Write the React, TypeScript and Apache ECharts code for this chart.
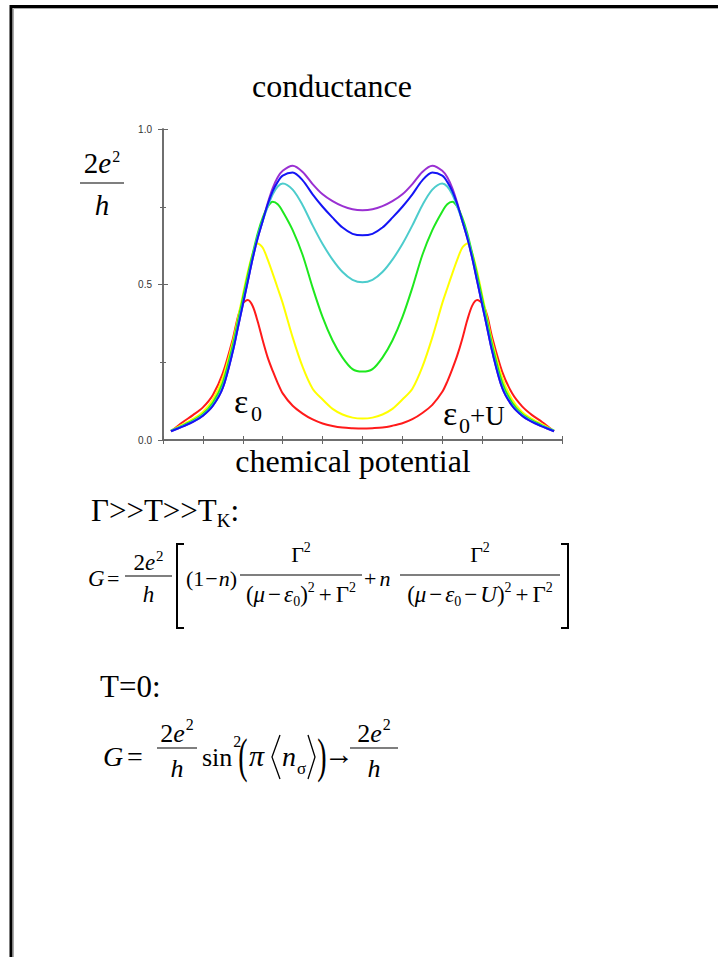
import React, { useEffect, useRef } from 'react';
import * as echarts from 'echarts';

// ---- data ----
const xs = [0.2, 0.5, 0.75, 1, 1.25, 1.5, 1.75, 1.875, 2, 2.125, 2.25, 2.375, 2.5, 2.625, 2.75, 2.875, 3, 3.25, 3.5, 3.75, 4, 4.25, 4.5, 4.75,
  5,
  5.25, 5.5, 5.75, 6, 6.25, 6.5, 6.75, 7, 7.125, 7.25, 7.375, 7.5, 7.625, 7.75, 7.875, 8, 8.125, 8.25, 8.5, 8.75, 9, 9.25, 9.5, 9.8];

const redVals = [0.028, 0.058, 0.08, 0.105, 0.145, 0.215, 0.325, 0.395, 0.44, 0.45, 0.43, 0.38, 0.32, 0.265, 0.222, 0.183, 0.15, 0.11, 0.085, 0.066, 0.053, 0.045, 0.04, 0.038,
  0.037,
  0.038, 0.04, 0.046, 0.054, 0.067, 0.087, 0.113, 0.155, 0.188, 0.228, 0.272, 0.325, 0.385, 0.432, 0.45, 0.44, 0.4, 0.33, 0.22, 0.15, 0.108, 0.08, 0.058, 0.028];
const yellowVals = [0.03, 0.05, 0.068, 0.09, 0.13, 0.2, 0.315, 0.39, 0.465, 0.54, 0.6, 0.632, 0.618, 0.58, 0.535, 0.488, 0.44, 0.33, 0.235, 0.165, 0.13, 0.1, 0.082, 0.072,
  0.069,
  0.072, 0.082, 0.1, 0.13, 0.165, 0.235, 0.33, 0.44, 0.488, 0.535, 0.58, 0.618, 0.632, 0.6, 0.54, 0.465, 0.39, 0.315, 0.2, 0.13, 0.09, 0.068, 0.05, 0.03];
const greenVals = [0.03, 0.047, 0.063, 0.084, 0.12, 0.185, 0.305, 0.38, 0.455, 0.53, 0.6, 0.665, 0.715, 0.75, 0.766, 0.758, 0.735, 0.675, 0.595, 0.49, 0.395, 0.32, 0.265, 0.228,
  0.22,
  0.228, 0.265, 0.32, 0.395, 0.49, 0.595, 0.675, 0.735, 0.758, 0.766, 0.75, 0.715, 0.665, 0.6, 0.53, 0.455, 0.38, 0.305, 0.185, 0.12, 0.084, 0.063, 0.047, 0.03];
const cyanVals = [0.03, 0.045, 0.06, 0.08, 0.112, 0.172, 0.29, 0.365, 0.44, 0.515, 0.59, 0.655, 0.705, 0.75, 0.79, 0.815, 0.825, 0.805, 0.755, 0.69, 0.63, 0.58, 0.54, 0.515,
  0.507,
  0.515, 0.54, 0.58, 0.63, 0.69, 0.755, 0.805, 0.825, 0.815, 0.79, 0.75, 0.705, 0.655, 0.59, 0.515, 0.44, 0.365, 0.29, 0.172, 0.112, 0.08, 0.06, 0.045, 0.03];
const blueVals = [0.028, 0.044, 0.058, 0.078, 0.11, 0.168, 0.285, 0.36, 0.435, 0.51, 0.585, 0.65, 0.705, 0.758, 0.8, 0.83, 0.85, 0.86, 0.835, 0.79, 0.75, 0.715, 0.683, 0.663,
  0.658,
  0.663, 0.683, 0.715, 0.75, 0.79, 0.835, 0.86, 0.85, 0.83, 0.8, 0.758, 0.705, 0.65, 0.585, 0.51, 0.435, 0.36, 0.285, 0.168, 0.11, 0.078, 0.058, 0.044, 0.028];
const purpleVals = [0.028, 0.044, 0.058, 0.078, 0.11, 0.168, 0.285, 0.36, 0.435, 0.51, 0.585, 0.65, 0.705, 0.762, 0.81, 0.845, 0.866, 0.882, 0.862, 0.823, 0.79, 0.768, 0.752, 0.742,
  0.739,
  0.742, 0.752, 0.768, 0.79, 0.823, 0.862, 0.882, 0.866, 0.845, 0.81, 0.762, 0.705, 0.65, 0.585, 0.51, 0.435, 0.36, 0.285, 0.168, 0.11, 0.078, 0.058, 0.044, 0.028];

const seriesNames = ['purple', 'red', 'yellow', 'green', 'cyan', 'blue'];
const seriesColors = ['#9a30d2', '#ff1a1a', '#ffff00', '#1ee81e', '#4ccccc', '#1414f5'];
const seriesValues = [purpleVals, redVals, yellowVals, greenVals, cyanVals, blueVals];

const yTickValues = [0, 0.5, 1];
const chartTitle = 'conductance';
const xAxisTitle = 'chemical potential';

const SERIF = 'Liberation Serif, Times New Roman, serif';
const SANS = 'Liberation Sans, Arial, sans-serif';

type Tok = { t: string; s: number; i?: boolean; dy?: number; g?: number };

export default function App() {
  const ref = useRef<HTMLDivElement>(null);

  useEffect(() => {
    if (!ref.current) return;
    const chart = echarts.init(ref.current, null, { renderer: 'svg' });

    const canvas = document.createElement('canvas');
    const ctx = canvas.getContext('2d')!;
    const measure = (t: string, s: number, i?: boolean) => {
      ctx.font = `${i ? 'italic ' : ''}${s}px ${SERIF}`;
      return ctx.measureText(t).width;
    };

    const els: any[] = [];
    const txtM = (x: number, yMid: number, t: string, s: number, i = false, align = 'left', extra: any = {}) => {
      els.push({
        type: 'text', x, y: yMid, ...extra,
        style: {
          text: t, fontSize: s, fontFamily: SERIF, fontStyle: i ? 'italic' : 'normal', fill: '#000',
          align, verticalAlign: 'middle', textAlign: align, textVerticalAlign: 'middle',
        },
      });
    };
    const txt = (x: number, base: number, t: string, s: number, i = false, align = 'left', extra: any = {}) =>
      txtM(x, base - 0.34 * s, t, s, i, align, extra);
    const runW = (toks: Tok[]) => toks.reduce((a, k) => a + (k.g || 0) + measure(k.t, k.s, k.i), 0);
    const run = (x0: number, base: number, toks: Tok[]) => {
      let x = x0;
      for (const k of toks) {
        x += k.g || 0;
        txt(x, base + (k.dy || 0), k.t, k.s, !!k.i);
        x += measure(k.t, k.s, k.i);
      }
      return x;
    };
    const runC = (cx: number, base: number, toks: Tok[]) => run(cx - runW(toks) / 2, base, toks);
    const hline = (x1: number, x2: number, y: number, w = 1.2) =>
      els.push({ type: 'line', shape: { x1, y1: y, x2, y2: y }, style: { stroke: '#000', lineWidth: w } });
    const poly = (pts: number[][], w = 1.6) =>
      els.push({ type: 'polyline', shape: { points: pts }, style: { stroke: '#000', lineWidth: w, fill: null } });
    const frac = (x1: number, x2: number, y: number, num: Tok[], numBase: number, den: Tok[], denBase: number) => {
      hline(x1, x2, y);
      const cx = (x1 + x2) / 2;
      runC(cx, numBase, num);
      runC(cx, denBase, den);
    };

    // page frame
    els.push({ type: 'line', shape: { x1: 10, y1: 6.5, x2: 718, y2: 6.5 }, style: { stroke: '#000', lineWidth: 3 } });
    els.push({ type: 'line', shape: { x1: 11, y1: 5, x2: 11, y2: 957 }, style: { stroke: '#000', lineWidth: 3 } });
    els.push({ type: 'line', shape: { x1: 13.5, y1: 8.5, x2: 718, y2: 8.5 }, style: { stroke: '#aaa', lineWidth: 1 } });
    els.push({ type: 'line', shape: { x1: 13.5, y1: 8.5, x2: 13.5, y2: 957 }, style: { stroke: '#aaa', lineWidth: 1 } });

    // titles
    txt(332, 97, chartTitle, 32, false, 'center');
    txt(353, 472, xAxisTitle, 32, false, 'center');

    // y unit 2e^2/h
    frac(80, 124, 183,
      [{ t: '2', s: 29 }, { t: 'e', s: 29, i: true }, { t: '2', s: 16, dy: -11, g: 1 }], 173,
      [{ t: 'h', s: 29, i: true }], 215);

    // peak labels
    txt(234, 413, 'ε', 34);
    txt(251, 421, '0', 22);
    txt(443, 425, 'ε', 34);
    txt(459, 433, '0', 22);
    run(470, 425, [{ t: '+', s: 27 }, { t: 'U', s: 27 }]);

    // Γ>>T>>T_K:
    run(91, 521, [
      { t: 'Γ', s: 31 }, { t: '>>', s: 31 }, { t: 'T', s: 31 }, { t: '>>', s: 31 }, { t: 'T', s: 31 },
      { t: 'K', s: 19, dy: 6 }, { t: ':', s: 31 },
    ]);

    // formula 1
    const S = 5; // vertical shift
    const B1 = 581 + S;
    txt(88, B1, 'G', 23, true);
    txt(107, B1, '=', 22);
    frac(125, 172, 571 + S,
      [{ t: '2', s: 23 }, { t: 'e', s: 23, i: true }, { t: '2', s: 15, dy: -9, g: 1 }], 565 + S,
      [{ t: 'h', s: 23, i: true }], 597 + S);
    poly([[184, 544], [177, 544], [177, 628], [184, 628]], 2);
    run(186, B1, [
      { t: '(', s: 22 }, { t: '1', s: 22 }, { t: '−', s: 22, g: 1 }, { t: 'n', s: 22, i: true, g: 1 }, { t: ')', s: 22 },
    ]);
    const sup: Tok = { t: '2', s: 14, dy: -10 };
    const D = 23;
    frac(240, 362, 570 + S,
      [{ t: 'Γ', s: 22 }, sup], 557 + S,
      [{ t: '(', s: D }, { t: 'μ', s: D, i: true }, { t: '−', s: D, g: 3 }, { t: 'ε', s: D, i: true, g: 3 },
        { t: '0', s: 14, dy: 4 }, { t: ')', s: D }, sup, { t: '+', s: D, g: 4 }, { t: 'Γ', s: D, g: 4 }, sup], 597 + S);
    run(364, B1, [{ t: '+', s: 22 }, { t: 'n', s: 22, i: true, g: 3 }]);
    frac(400, 560, 570 + S,
      [{ t: 'Γ', s: 22 }, sup], 557 + S,
      [{ t: '(', s: D }, { t: 'μ', s: D, i: true }, { t: '−', s: D, g: 3 }, { t: 'ε', s: D, i: true, g: 3 },
        { t: '0', s: 14, dy: 4 }, { t: '−', s: D, g: 3 }, { t: 'U', s: D, i: true, g: 3 }, { t: ')', s: D }, sup,
        { t: '+', s: D, g: 4 }, { t: 'Γ', s: D, g: 4 }, sup], 597 + S);
    poly([[561, 544], [568, 544], [568, 628], [561, 628]], 2);

    // T=0:
    run(100, 697, [{ t: 'T=0:', s: 31 }]);

    // formula 2
    const B2 = 766;
    txt(103, B2, 'G', 28, true);
    txt(127, B2, '=', 28);
    frac(157, 197, 748,
      [{ t: '2', s: 26 }, { t: 'e', s: 26, i: true }, { t: '2', s: 16, dy: -12, g: 1 }], 742,
      [{ t: 'h', s: 26, i: true }], 777);
    run(202, B2, [{ t: 'sin', s: 26 }, { t: '2', s: 16, dy: -19, g: 1 }]);
    txtM(243, 755, '(', 28, false, 'center', { scaleY: 1.75 });
    txt(249, B2, 'π', 30, true);
    poly([[280, 735], [272, 757], [280, 779]], 1.3);
    run(282, B2, [{ t: 'n', s: 28, i: true }, { t: 'σ', s: 17, dy: 8, g: 1 }]);
    poly([[308, 735], [315, 757], [308, 779]], 1.3);
    txtM(322, 755, ')', 28, false, 'center', { scaleY: 1.75 });
    txtM(339, 753, '→', 30, false, 'center');
    frac(350, 398, 748,
      [{ t: '2', s: 26 }, { t: 'e', s: 26, i: true }, { t: '2', s: 16, dy: -12, g: 1 }], 742,
      [{ t: 'h', s: 26, i: true }], 777);

    const axisLine = { show: true, lineStyle: { color: '#666', width: 1.5 } };
    const grid = { left: 163, top: 129, width: 399, height: 311 };

    const option: any = {
      animation: false,
      backgroundColor: '#fff',
      grid,
      xAxis: [0, 1].map((k) => ({
        type: 'value', min: 0, max: 10, interval: 1, position: k === 0 ? 'bottom' : 'top',
        axisLine, axisTick: { show: true, inside: true, length: 4, lineStyle: { color: '#666', width: 1 } },
        axisLabel: { show: false }, splitLine: { show: false },
      })),
      yAxis: [0, 1].map((k) => ({
        type: 'value', min: 0, max: 1, interval: 0.5, position: k === 0 ? 'left' : 'right',
        axisLine, axisTick: { show: true, inside: true, length: 5, lineStyle: { color: '#666', width: 1 } },
        minorTick: { show: true, splitNumber: 2, length: 3, lineStyle: { color: '#666', width: 1 } },
        axisLabel: k === 0 ? {
          show: true, margin: 11, fontFamily: SANS, fontSize: 10, color: '#333',
          formatter: (v: number) => (yTickValues.some((t) => Math.abs(t - v) < 1e-9) ? v.toFixed(1) : ''),
        } : { show: false },
        splitLine: { show: false }, minorSplitLine: { show: false },
      })),
      series: seriesValues.map((vals, si) => ({
        name: seriesNames[si], type: 'line', xAxisIndex: 0, yAxisIndex: 0,
        data: xs.map((x, i) => [x, vals[i]]),
        smooth: 0.3, showSymbol: false, symbol: 'none',
        lineStyle: { color: seriesColors[si], width: 2 },
        itemStyle: { color: seriesColors[si] },
        z: 2 + si,
      })),
      graphic: { elements: els },
    };
    chart.setOption(option);
    return () => chart.dispose();
  }, []);

  return (
    <div ref={ref} style={{ position: 'absolute', left: 0, top: 0, width: 718, height: 957, background: '#fff' }} />
  );
}
